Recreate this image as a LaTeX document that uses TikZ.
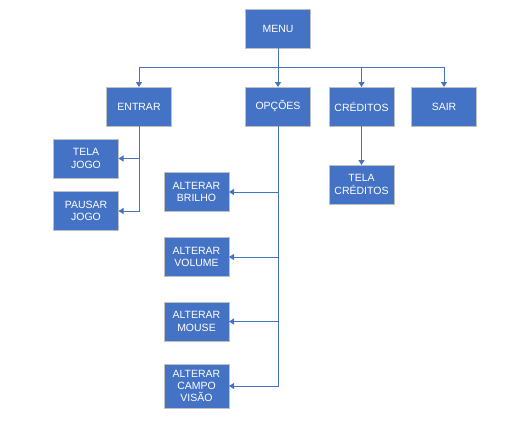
\documentclass[tikz,border=0pt]{standalone}
\usepackage{fontspec}
\setmainfont{Liberation Sans}
\usetikzlibrary{arrows.meta}
\definecolor{boxblue}{HTML}{4472C4}
\definecolor{boxedge}{HTML}{BFBFBF}
\begin{document}
\begin{tikzpicture}[x=1pt,y=-1pt,
  menubox/.style={draw=boxedge,line width=1pt,fill=boxblue,text=white,
    minimum width=65pt,minimum height=39pt,inner sep=1pt,outer sep=0pt,
    align=center,font=\fontsize{10.5}{12.3}\selectfont},
  link/.style={draw=boxblue,line width=1pt,-{Triangle[length=5pt,width=6pt]}}]
\useasboundingbox (0,0) rectangle (527,423);

% top level
\node[menubox] (menu) at (278,28.5) {MENU};
\node[menubox] (entrar) at (139,106.5) {ENTRAR};
\node[menubox] (opcoes) at (278,106.5) {OPÇÕES};
\node[menubox] (creditos) at (361.5,106.5) {CRÉDITOS};
\node[menubox] (sair) at (444,106.5) {SAIR};

% second level
\node[menubox] (telajogo) at (86,158.5) {TELA\\JOGO};
\node[menubox] (pausar) at (86,211) {PAUSAR\\JOGO};
\node[menubox] (brilho) at (196.5,192) {ALTERAR\\BRILHO};
\node[menubox] (volume) at (196.5,257) {ALTERAR\\VOLUME};
\node[menubox] (mouse) at (196.5,321.5) {ALTERAR\\MOUSE};
\node[menubox,minimum height=44pt] (campo) at (196.5,386) {ALTERAR\\CAMPO\\VISÃO};
\node[menubox] (telacred) at (361.5,184.5) {TELA\\CRÉDITOS};

% horizontal bus under MENU
\coordinate (bus) at (0,67);
\draw[link] (menu.south) -- (opcoes.north);
\draw[link] (menu.south |- bus) -| (entrar.north);
\draw[link] (menu.south |- bus) -| (creditos.north);
\draw[link] (menu.south |- bus) -| (sair.north);

% ENTRAR branch
\draw[link] (entrar.south) |- (telajogo.east);
\draw[link] (entrar.south) |- (pausar.east);

% OPÇÕES branch
\draw[link] (opcoes.south) |- (brilho.east);
\draw[link] (opcoes.south) |- (volume.east);
\draw[link] (opcoes.south) |- (mouse.east);
\draw[link] (opcoes.south) |- (campo.east);

% CRÉDITOS branch
\draw[link] (creditos.south) -- (telacred.north);
\end{tikzpicture}
\end{document}
